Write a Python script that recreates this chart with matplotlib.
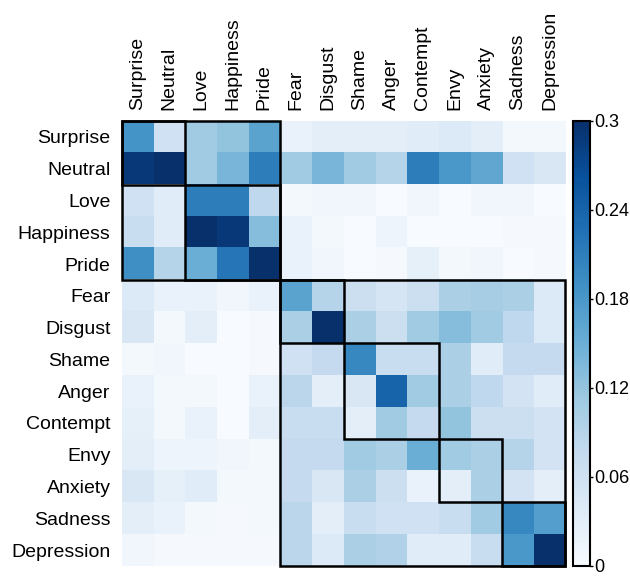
import matplotlib.pyplot as plt
from matplotlib.patches import Rectangle
import numpy as np

plt.rcParams['font.family'] = ['Liberation Sans', 'DejaVu Sans']

emotions = ["Surprise", "Neutral", "Love", "Happiness", "Pride", "Fear", "Disgust",
            "Shame", "Anger", "Contempt", "Envy", "Anxiety", "Sadness", "Depression"]

# co-occurrence matrix, one row per emotion
vals = [
    [0.185, 0.060, 0.110, 0.120, 0.165, 0.020, 0.030, 0.030, 0.030, 0.035, 0.040, 0.030, 0.005, 0.005],
    [0.290, 0.300, 0.110, 0.140, 0.210, 0.110, 0.140, 0.110, 0.090, 0.210, 0.180, 0.160, 0.060, 0.045],
    [0.060, 0.035, 0.210, 0.210, 0.080, 0.005, 0.010, 0.010, 0.000, 0.010, 0.000, 0.010, 0.010, 0.000],
    [0.070, 0.035, 0.300, 0.290, 0.130, 0.020, 0.005, 0.000, 0.015, 0.000, 0.000, 0.000, 0.003, 0.003],
    [0.190, 0.090, 0.150, 0.220, 0.300, 0.020, 0.010, 0.000, 0.003, 0.025, 0.005, 0.010, 0.000, 0.003],
    [0.040, 0.020, 0.020, 0.010, 0.020, 0.165, 0.090, 0.065, 0.050, 0.065, 0.100, 0.105, 0.100, 0.040],
    [0.045, 0.005, 0.030, 0.000, 0.003, 0.100, 0.300, 0.100, 0.065, 0.110, 0.130, 0.110, 0.080, 0.040],
    [0.005, 0.010, 0.000, 0.000, 0.003, 0.060, 0.075, 0.200, 0.070, 0.070, 0.100, 0.035, 0.075, 0.075],
    [0.020, 0.005, 0.005, 0.000, 0.020, 0.085, 0.030, 0.045, 0.240, 0.110, 0.100, 0.080, 0.055, 0.035],
    [0.025, 0.005, 0.020, 0.000, 0.030, 0.070, 0.070, 0.030, 0.110, 0.075, 0.120, 0.065, 0.065, 0.055],
    [0.030, 0.015, 0.015, 0.010, 0.005, 0.075, 0.075, 0.110, 0.100, 0.150, 0.110, 0.100, 0.090, 0.055],
    [0.045, 0.025, 0.035, 0.005, 0.005, 0.075, 0.045, 0.100, 0.065, 0.020, 0.030, 0.100, 0.055, 0.030],
    [0.030, 0.020, 0.005, 0.003, 0.005, 0.085, 0.030, 0.070, 0.060, 0.060, 0.070, 0.110, 0.200, 0.170],
    [0.010, 0.003, 0.003, 0.003, 0.003, 0.085, 0.040, 0.100, 0.095, 0.035, 0.035, 0.070, 0.180, 0.300],
]

# clusters outlined on the diagonal: (start, size)
blocks = [(0, 5), (0, 2), (2, 3), (5, 9), (5, 2), (7, 3), (10, 2), (12, 2)]
cbar_ticks = [0, 0.06, 0.12, 0.18, 0.24, 0.3]
cbar_labels = ["0", "0.06", "0.12", "0.18", "0.24", "0.3"]

fig = plt.figure(figsize=(6.3, 5.76), dpi=100)
ax = fig.add_axes([0.193, 0.0174, 0.7046, 0.7726])
im = ax.imshow(np.array(vals), cmap="Blues", vmin=0, vmax=0.3, aspect="auto",
               interpolation="nearest")

for s, n in blocks:
    ax.add_patch(Rectangle((s - 0.5, s - 0.5), n, n, fill=False,
                           edgecolor="black", lw=1.8, zorder=3, clip_on=False))

ax.set_xticks(range(len(emotions)))
ax.set_yticks(range(len(emotions)))
ax.set_xticklabels(emotions, rotation=90, fontsize=14)
ax.set_yticklabels(emotions, fontsize=14)
ax.xaxis.tick_top()
ax.tick_params(length=0, pad=8)
for sp in ax.spines.values():
    sp.set_visible(False)

cax = fig.add_axes([0.9095, 0.0174, 0.027, 0.7726])
cb = fig.colorbar(im, cax=cax, ticks=cbar_ticks)
cb.ax.set_yticklabels(cbar_labels)
cb.ax.tick_params(labelsize=13, length=2.5, width=1, pad=0.5)
cb.outline.set_linewidth(1.5)

fig.savefig("out.png", dpi=100)
